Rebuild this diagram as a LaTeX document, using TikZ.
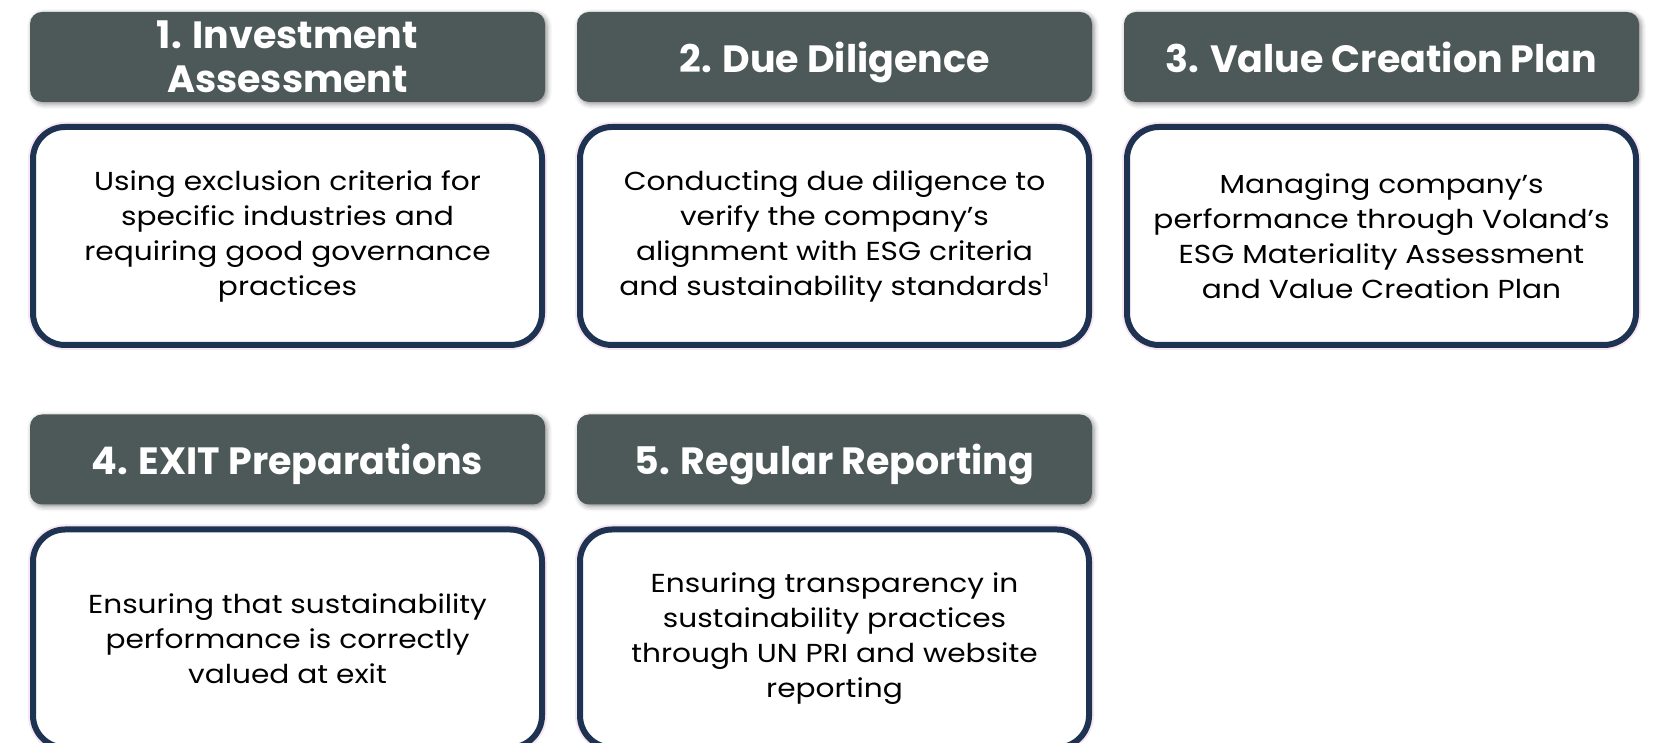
\documentclass[tikz,border=0pt]{standalone}
\usepackage{fontspec}
\setmainfont{Poppins}
\newfontfamily\cardfont[FakeStretch=1.14]{Poppins}
\usepackage{tikz}
\usetikzlibrary{positioning,shadows.blur}

\definecolor{headgray}{HTML}{4D5959}
\definecolor{cardnavy}{HTML}{1E3352}
\definecolor{glowpink}{HTML}{F8E6F1}

\begin{document}
\begin{tikzpicture}[x=1pt,y=1pt,node distance=179pt and 547pt,on grid,
   head/.style={fill=headgray,rounded corners=12pt,minimum width=515pt,minimum height=90pt,
     text=white,align=center,text depth=0pt,font=\fontsize{38}{44}\selectfont\bfseries,
     blur shadow={shadow xshift=2pt,shadow yshift=-2pt,shadow blur radius=5pt,shadow opacity=45}},
   card/.style={draw=cardnavy,line width=6pt,fill=white,rounded corners=32pt,
     minimum width=509pt,minimum height=218pt,align=center,
     font=\cardfont\fontsize{26}{35}\selectfont,preaction={draw=glowpink,line width=10pt}}]
   \useasboundingbox (0,0) rectangle (1661,743);

   % first row
   \node[head] (inv)   at (287.5,686) {1. Investment\\Assessment};
   \node[head] (dd)    [right=of inv] {2. Due Diligence};
   \node[head] (vcp)   [right=of dd]  {3. Value Creation Plan};
   \node[card] (inv_t) [below=of inv] {Using exclusion criteria for\\specific industries and\\requiring good governance\\practices};
   \node[card] (dd_t)  [below=of dd]  {Conducting due diligence to\\verify the company’s\\alignment with ESG criteria\\and sustainability standards\textsuperscript{1}};
   \node[card] (vcp_t) [below=of vcp] {Managing company’s\\performance through Voland’s\\ESG Materiality Assessment\\and Value Creation Plan};

   % second row
   \node[head] (exit)  [below=223.5pt of inv_t] {4. EXIT Preparations};
   \node[head] (rep)   [right=of exit] {5. Regular Reporting};
   \node[card] (exit_t) [below=of exit] {Ensuring that sustainability\\performance is correctly\\valued at exit};
   \node[card] (rep_t)  [below=of rep]  {Ensuring transparency in\\sustainability practices\\through UN PRI and website\\reporting};
\end{tikzpicture}
\end{document}
